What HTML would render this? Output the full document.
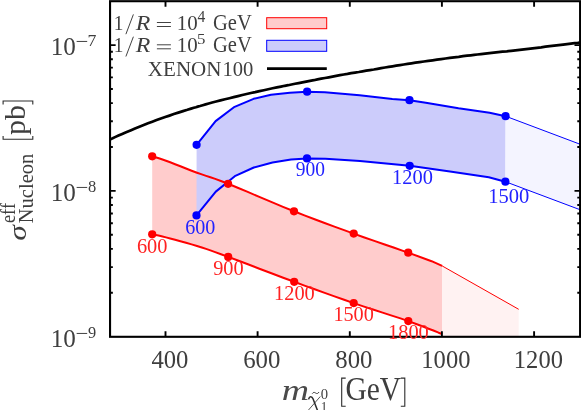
<!DOCTYPE html><html><head><meta charset="utf-8"><style>html,body{margin:0;padding:0;background:#fff}svg{display:block;will-change:transform}text{font-family:"Liberation Serif",serif;font-kerning:none;font-variant-ligatures:none}</style></head><body>
<svg width="581" height="410" viewBox="0 0 581 410">
<rect width="581" height="410" fill="#fff"/>
<defs><clipPath id="c"><rect x="110.05" y="1.2" width="470.05" height="335.6"/></clipPath></defs>
<g clip-path="url(#c)">
<polygon points="152.2,156.3 153.5,156.7 155.1,157.2 157.2,157.8 159.6,158.5 162.5,159.5 166.0,160.7 170.2,162.3 175.1,164.2 180.4,166.3 186.0,168.5 191.6,170.7 197.0,172.7 201.8,174.4 206.1,175.9 210.4,177.3 215.2,178.9 220.9,181.0 228.1,183.8 237.1,187.5 247.7,191.9 259.3,196.9 271.2,201.9 283.0,206.8 294.0,211.3 304.4,215.4 314.6,219.2 324.6,223.0 334.4,226.6 344.1,230.1 353.7,233.6 363.7,237.2 374.3,240.9 384.7,244.5 394.3,247.8 402.3,250.6 408.2,252.6 431.6,261.2 442.1,265.9 442.0,334.0 438.6,332.7 434.0,330.8 428.6,328.7 422.3,326.3 415.5,323.7 408.3,321.1 400.5,318.4 391.8,315.6 382.6,312.6 373.0,309.5 363.3,306.4 353.7,303.1 344.1,299.8 334.5,296.4 324.7,292.9 314.7,289.3 304.5,285.6 294.2,281.8 283.2,277.7 271.4,273.2 259.4,268.7 247.9,264.3 237.3,260.3 228.2,256.9 221.0,254.2 215.2,252.1 210.4,250.4 206.1,248.9 201.8,247.5 197.0,246.0 191.6,244.4 186.0,242.8 180.4,241.2 175.1,239.8 170.2,238.5 166.0,237.4 162.5,236.5 159.6,235.8 157.2,235.3 155.1,234.9 153.5,234.6 152.2,234.3" fill="#ffcccc"/>
<polygon points="442.1,265.9 518.7,309.3 518.7,340.0 442.0,340.0 442.0,334.0" fill="#fff2f2"/>
<polygon points="196.6,144.8 215.6,121.1 234.6,106.8 253.6,98.8 271.0,94.8 289.9,92.7 307.1,91.7 324.8,92.2 359.6,95.2 392.3,98.9 409.5,100.2 425.8,102.7 458.5,108.2 489.6,112.7 505.6,116.2 505.4,181.7 488.8,177.3 450.0,171.4 409.7,165.8 391.3,164.1 360.0,161.1 325.4,158.7 307.0,158.4 291.0,159.6 272.5,162.5 253.8,167.5 234.8,176.2 215.8,191.6 196.5,215.4" fill="#ccccfb"/>
<polygon points="505.6,116.2 580.0,144.2 580.0,209.7 505.4,181.7" fill="#f4f4ff"/>
<polyline points="196.6,144.8 215.6,121.1 234.6,106.8 253.6,98.8 271.0,94.8 289.9,92.7 307.1,91.7 324.8,92.2 359.6,95.2 392.3,98.9 409.5,100.2 425.8,102.7 458.5,108.2 489.6,112.7 505.6,116.2" fill="none" stroke="#0000ff" stroke-width="2" stroke-linejoin="round"/>
<polyline points="196.5,215.4 215.8,191.6 234.8,176.2 253.8,167.5 272.5,162.5 291.0,159.6 307.0,158.4 325.4,158.7 360.0,161.1 391.3,164.1 409.7,165.8 450.0,171.4 488.8,177.3 505.4,181.7" fill="none" stroke="#0000ff" stroke-width="2" stroke-linejoin="round"/>
<polyline points="505.6,116.2 580.0,144.2" fill="none" stroke="#0000ff" stroke-width="1"/>
<polyline points="505.4,181.7 580.0,209.7" fill="none" stroke="#0000ff" stroke-width="1"/>
<polyline points="152.2,156.3 153.5,156.7 155.1,157.2 157.2,157.8 159.6,158.5 162.5,159.5 166.0,160.7 170.2,162.3 175.1,164.2 180.4,166.3 186.0,168.5 191.6,170.7 197.0,172.7 201.8,174.4 206.1,175.9 210.4,177.3 215.2,178.9 220.9,181.0 228.1,183.8 237.1,187.5 247.7,191.9 259.3,196.9 271.2,201.9 283.0,206.8 294.0,211.3 304.4,215.4 314.6,219.2 324.6,223.0 334.4,226.6 344.1,230.1 353.7,233.6 363.7,237.2 374.3,240.9 384.7,244.5 394.3,247.8 402.3,250.6 408.2,252.6 431.6,261.2 442.1,265.9" fill="none" stroke="#ff0000" stroke-width="2" stroke-linejoin="round"/>
<polyline points="152.2,234.3 153.5,234.6 155.1,234.9 157.2,235.3 159.6,235.8 162.5,236.5 166.0,237.4 170.2,238.5 175.1,239.8 180.4,241.2 186.0,242.8 191.6,244.4 197.0,246.0 201.8,247.5 206.1,248.9 210.4,250.4 215.2,252.1 221.0,254.2 228.2,256.9 237.3,260.3 247.9,264.3 259.4,268.7 271.4,273.2 283.2,277.7 294.2,281.8 304.5,285.6 314.7,289.3 324.7,292.9 334.5,296.4 344.1,299.8 353.7,303.1 363.3,306.4 373.0,309.5 382.6,312.6 391.8,315.6 400.5,318.4 408.3,321.1 415.5,323.7 422.3,326.3 428.6,328.7 434.0,330.8 438.6,332.7 442.0,334.0" fill="none" stroke="#ff0000" stroke-width="2" stroke-linejoin="round"/>
<polyline points="442.1,265.9 518.7,309.3" fill="none" stroke="#ff0000" stroke-width="1"/>
<polyline points="110.0,139.4 112.1,138.5 115.0,137.1 118.5,135.5 122.2,133.9 126.1,132.2 130.5,130.4 135.0,128.5 139.4,126.7 143.7,125.0 148.0,123.3 152.3,121.7 156.6,120.1 160.9,118.5 165.2,117.0 169.5,115.6 173.8,114.1 178.3,112.6 183.0,111.1 187.4,109.8 191.1,108.6 193.8,107.8 195.9,107.2 197.7,106.6 200.0,106.0 202.7,105.2 205.6,104.4 208.7,103.5 212.2,102.5 216.1,101.5 220.5,100.4 225.0,99.3 229.4,98.2 233.7,97.1 238.0,96.1 242.3,95.0 246.6,94.0 250.9,93.0 255.2,92.1 259.5,91.1 263.8,90.2 268.2,89.3 272.6,88.3 276.9,87.4 281.0,86.6 284.7,85.8 288.1,85.2 291.5,84.5 295.0,83.8 298.7,83.1 302.4,82.4 306.2,81.6 310.0,80.9 313.8,80.2 317.5,79.4 321.2,78.7 325.0,78.0 328.8,77.3 332.5,76.6 336.2,75.9 340.0,75.2 343.8,74.5 347.5,73.9 351.2,73.2 355.0,72.6 358.8,72.0 362.5,71.3 366.2,70.7 370.0,70.1 373.8,69.5 377.5,68.8 381.2,68.1 385.0,67.5 388.7,66.9 392.5,66.3 396.2,65.7 400.0,65.1 403.8,64.5 407.6,63.9 411.4,63.3 415.4,62.7 419.6,62.1 423.9,61.5 428.3,60.9 432.6,60.3 436.9,59.7 441.2,59.1 445.5,58.5 449.8,57.9 454.2,57.3 458.7,56.8 463.0,56.2 467.1,55.7 470.7,55.3 474.1,54.9 477.4,54.5 481.0,54.1 485.1,53.6 489.4,53.2 493.8,52.7 498.2,52.2 502.5,51.7 506.8,51.3 511.1,50.8 515.4,50.3 519.7,49.8 524.0,49.3 528.3,48.8 532.6,48.3 536.9,47.8 541.2,47.3 545.5,46.7 549.8,46.2 554.2,45.7 558.7,45.1 563.1,44.6 567.1,44.1 570.9,43.6 574.6,43.2 577.8,42.9 580.0,42.6" fill="none" stroke="#000" stroke-width="2.7" stroke-linejoin="round"/>
</g>
<circle cx="196.6" cy="144.8" r="4.1" fill="#0000ff"/>
<circle cx="307.1" cy="91.7" r="4.1" fill="#0000ff"/>
<circle cx="409.5" cy="100.2" r="4.1" fill="#0000ff"/>
<circle cx="505.6" cy="116.2" r="4.1" fill="#0000ff"/>
<circle cx="196.5" cy="215.4" r="4.1" fill="#0000ff"/>
<circle cx="307" cy="158.4" r="4.1" fill="#0000ff"/>
<circle cx="409.7" cy="165.8" r="4.1" fill="#0000ff"/>
<circle cx="505.4" cy="181.7" r="4.1" fill="#0000ff"/>
<circle cx="152.2" cy="156.3" r="4.1" fill="#ff0000"/>
<circle cx="228.1" cy="183.8" r="4.1" fill="#ff0000"/>
<circle cx="294" cy="211.3" r="4.1" fill="#ff0000"/>
<circle cx="353.7" cy="233.6" r="4.1" fill="#ff0000"/>
<circle cx="408.2" cy="252.6" r="4.1" fill="#ff0000"/>
<circle cx="152.2" cy="234.3" r="4.1" fill="#ff0000"/>
<circle cx="228.2" cy="256.9" r="4.1" fill="#ff0000"/>
<circle cx="294.2" cy="281.8" r="4.1" fill="#ff0000"/>
<circle cx="353.7" cy="303.1" r="4.1" fill="#ff0000"/>
<circle cx="408.3" cy="321.1" r="4.1" fill="#ff0000"/>
<rect x="266.7" y="17.7" width="60" height="11" fill="#ffcccc" stroke="#ff0000" stroke-width="1"/>
<rect x="266.7" y="40.3" width="60" height="11" fill="#ccccfb" stroke="#0000ff" stroke-width="1"/>
<line x1="267" y1="68.65" x2="326.8" y2="68.65" stroke="#000" stroke-width="2.7"/>
<path d="M165.5,336.8v-5.6M165.5,1.2v5.6M257.6,336.8v-5.6M257.6,1.2v5.6M349.8,336.8v-5.6M349.8,1.2v5.6M441.9,336.8v-5.6M441.9,1.2v5.6M534.1,336.8v-5.6M534.1,1.2v5.6M110.05,292.8h2.8M580.1,292.8h-2.8M110.05,267.1h2.8M580.1,267.1h-2.8M110.05,248.9h2.8M580.1,248.9h-2.8M110.05,234.8h2.8M580.1,234.8h-2.8M110.05,223.2h2.8M580.1,223.2h-2.8M110.05,213.5h2.8M580.1,213.5h-2.8M110.05,205.0h2.8M580.1,205.0h-2.8M110.05,197.6h2.8M580.1,197.6h-2.8M110.05,190.9h5.6M580.1,190.9h-5.6M110.05,147.0h2.8M580.1,147.0h-2.8M110.05,121.3h2.8M580.1,121.3h-2.8M110.05,103.1h2.8M580.1,103.1h-2.8M110.05,89.0h2.8M580.1,89.0h-2.8M110.05,77.4h2.8M580.1,77.4h-2.8M110.05,67.6h2.8M580.1,67.6h-2.8M110.05,59.2h2.8M580.1,59.2h-2.8M110.05,51.7h2.8M580.1,51.7h-2.8M110.05,45.1h5.6M580.1,45.1h-5.6" stroke="#000" stroke-width="1.9" fill="none"/>
<rect x="110.05" y="1.2" width="470.05" height="335.6" fill="none" stroke="#000" stroke-width="2.1"/>
<text transform="matrix(0.2468 0 0 0.2593 151.42 367.90)" font-size="100" fill="#3e3e3e">400</text>
<text transform="matrix(0.2488 0 0 0.2593 243.13 367.90)" font-size="100" fill="#3e3e3e">600</text>
<text transform="matrix(0.2479 0 0 0.2593 335.26 367.90)" font-size="100" fill="#3e3e3e">800</text>
<text transform="matrix(0.2455 0 0 0.2593 421.34 367.90)" font-size="100" fill="#3e3e3e">1000</text>
<text transform="matrix(0.2455 0 0 0.2593 513.84 367.90)" font-size="100" fill="#3e3e3e">1200</text>
<text transform="matrix(0.2511 0 0 0.2574 50.69 54.79)" font-size="100" fill="#3e3e3e">10</text>
<line x1="76.65" y1="41.45" x2="87.2" y2="41.45" stroke="#2c2c2c" stroke-width="0.9"/>
<text transform="matrix(0.1777 0 0 0.1665 87.53 45.90)" font-size="100" fill="#3e3e3e">7</text>
<text transform="matrix(0.2511 0 0 0.2574 50.69 200.79)" font-size="100" fill="#3e3e3e">10</text>
<line x1="76.65" y1="187.45" x2="87.2" y2="187.45" stroke="#2c2c2c" stroke-width="0.9"/>
<text transform="matrix(0.1652 0 0 0.1645 87.97 191.84)" font-size="100" fill="#3e3e3e">8</text>
<text transform="matrix(0.2511 0 0 0.2574 50.69 346.79)" font-size="100" fill="#3e3e3e">10</text>
<line x1="76.65" y1="333.45" x2="87.2" y2="333.45" stroke="#2c2c2c" stroke-width="0.9"/>
<text transform="matrix(0.1640 0 0 0.1652 88.07 337.84)" font-size="100" fill="#3e3e3e">9</text>
<text transform="matrix(0.1932 0 0 0.2089 113.70 29.85)" font-size="100" fill="#3e3e3e">1</text>
<line x1="125.9" y1="34.2" x2="133.4" y2="14.4" stroke="#2c2c2c" stroke-width="0.9"/>
<text transform="matrix(0.2385 0 0 0.2176 135.73 29.85)" font-size="100" fill="#3e3e3e" font-style="italic">R</text>
<path d="M156.9,22.5h14M156.9,26.5h14" stroke="#2c2c2c" stroke-width="0.9" fill="none"/>
<text transform="matrix(0.2094 0 0 0.2121 176.76 29.74)" font-size="100" fill="#3e3e3e">10</text>
<text transform="matrix(0.1560 0 0 0.1565 197.55 21.90)" font-size="100" fill="#3e3e3e">4</text>
<text transform="matrix(0.2053 0 0 0.2237 213.06 29.71)" font-size="100" fill="#3e3e3e">GeV</text>
<text transform="matrix(0.1932 0 0 0.2089 113.70 52.15)" font-size="100" fill="#3e3e3e">1</text>
<line x1="125.9" y1="56.5" x2="133.4" y2="36.7" stroke="#2c2c2c" stroke-width="0.9"/>
<text transform="matrix(0.2385 0 0 0.2176 135.73 52.15)" font-size="100" fill="#3e3e3e" font-style="italic">R</text>
<path d="M156.9,44.8h14M156.9,48.8h14" stroke="#2c2c2c" stroke-width="0.9" fill="none"/>
<text transform="matrix(0.2094 0 0 0.2121 176.76 52.04)" font-size="100" fill="#3e3e3e">10</text>
<text transform="matrix(0.1688 0 0 0.1520 197.12 44.25)" font-size="100" fill="#3e3e3e">5</text>
<text transform="matrix(0.2053 0 0 0.2237 213.06 52.01)" font-size="100" fill="#3e3e3e">GeV</text>
<text transform="matrix(0.2104 0 0 0.2009 147.84 75.60)" font-size="100" fill="#3e3e3e">XENON</text>
<text transform="matrix(0.2060 0 0 0.2045 222.39 75.80)" font-size="100" fill="#3e3e3e">100</text>
<text transform="matrix(0.2009 0 0 0.2172 185.20 233.75)" font-size="100" fill="#2222ff">600</text>
<text transform="matrix(0.1951 0 0 0.2141 295.87 176.29)" font-size="100" fill="#2222ff">900</text>
<text transform="matrix(0.2041 0 0 0.2134 392.11 183.69)" font-size="100" fill="#2222ff">1200</text>
<text transform="matrix(0.2054 0 0 0.2134 488.19 202.69)" font-size="100" fill="#2222ff">1500</text>
<text transform="matrix(0.2037 0 0 0.2164 136.92 252.69)" font-size="100" fill="#ff2222">600</text>
<text transform="matrix(0.2035 0 0 0.2193 213.14 275.29)" font-size="100" fill="#ff2222">900</text>
<text transform="matrix(0.2041 0 0 0.2134 274.01 299.89)" font-size="100" fill="#ff2222">1200</text>
<text transform="matrix(0.2020 0 0 0.2134 333.42 321.19)" font-size="100" fill="#ff2222">1500</text>
<text transform="matrix(0.2041 0 0 0.2134 388.01 339.19)" font-size="100" fill="#ff2222">1800</text>
<text transform="matrix(0.3789 0 0 0.2865 281.83 400.40)" font-size="100" fill="#4a4a4a" font-style="italic">m</text>
<path d="M308.8,398.7C309.4,396.3 311.9,395.9 313.0,398.8L317.9,411.5" stroke="#2c2c2c" stroke-width="1.5" fill="none" stroke-linecap="round"/>
<path d="M320.3,396.5L307.8,410.8" stroke="#2c2c2c" stroke-width="0.8" fill="none"/>
<path d="M312.2,393.7c1.0,-1.6 2.2,-1.6 3.4,-0.7s2.4,0.8 3.4,-1.0" stroke="#2c2c2c" stroke-width="0.9" fill="none"/>
<text transform="matrix(0.1463 0 0 0.1482 320.64 398.76)" font-size="100" fill="#3e3e3e">0</text>
<text transform="matrix(0.1307 0 0 0.1484 320.75 411.80)" font-size="100" fill="#3e3e3e">1</text>
<text transform="matrix(0.2947 0 0 0.3263 345.49 400.21)" font-size="100" fill="#3e3e3e">GeV</text>
<path d="M345.7,378.1h-4v28.2h4M400.8,378.1h4v28.2h-4" stroke="#2c2c2c" stroke-width="1.1" fill="none"/>
<text transform="matrix(0 -0.3151 0.2589 0 25.75 240.84)" font-size="100" fill="#3e3e3e" font-style="italic">σ</text>
<text transform="matrix(0 -0.1830 0.2059 0 14.80 223.12)" font-size="100" fill="#3e3e3e">eff</text>
<text transform="matrix(0 -0.2049 0.2089 0 32.90 223.19)" font-size="100" fill="#3e3e3e">Nucleon</text>
<text transform="matrix(0 -0.2992 0.2945 0 25.13 134.88)" font-size="100" fill="#3e3e3e">pb</text>
<path d="M3.1,135.9v3.4h29.7v-3.4M3.1,104.4v-3.4h29.7v3.4" stroke="#2c2c2c" stroke-width="1.1" fill="none"/>
</svg></body></html>
